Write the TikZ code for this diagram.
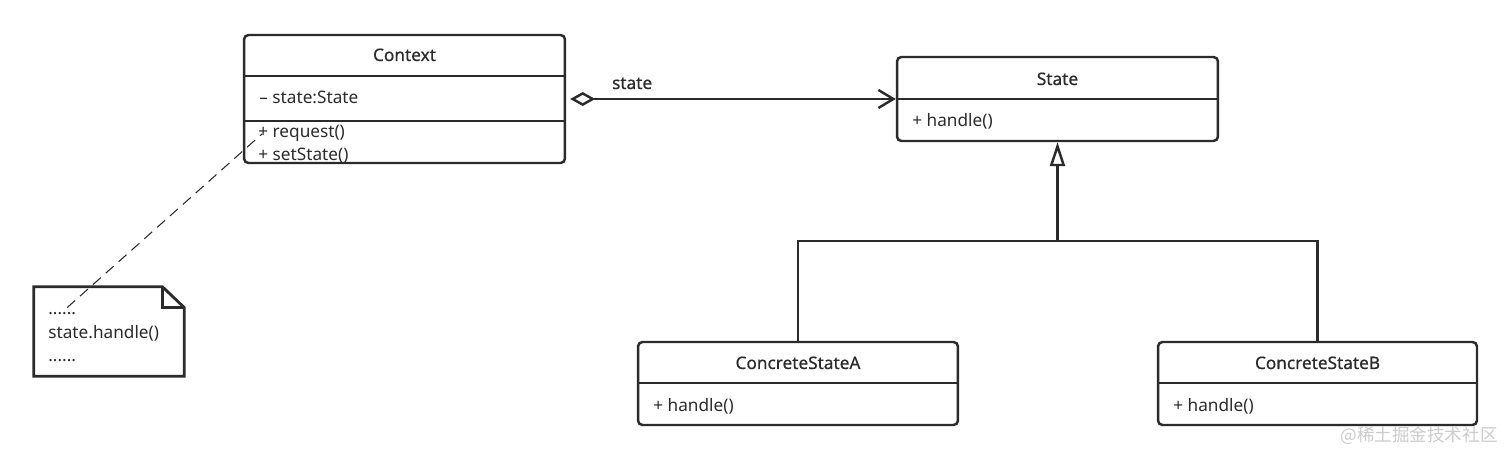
\documentclass[tikz,border=0pt]{standalone}
\usepackage{fontspec}
\setmainfont{Noto Sans}
\newfontfamily\cjkfont{Noto Sans CJK SC}
\usepackage{tikz}
\usetikzlibrary{arrows.meta,positioning}
\definecolor{ink}{HTML}{2B2B2B}
\tikzset{cls/.style={draw=ink,line width=1.4pt,rounded corners=2.5pt,inner sep=0pt},
  ttl/.style={anchor=base,inner sep=0pt,text=ink,font=\fontsize{9.8}{12}\selectfont\addfontfeature{FakeBold=0.6}},
  mbr/.style={anchor=base west,inner sep=0pt,text=ink,font=\fontsize{9.8}{12}\selectfont},
  bar/.style={draw=ink,line width=1.4pt}}

\begin{document}
\begin{tikzpicture}[x=0.02cm,y=-0.02cm]
    \useasboundingbox (0,0) rectangle (1512,459);
    % class boxes
    \node[cls,minimum width=6.42cm,minimum height=2.56cm] (ctx) at (404.5,99) {};
    \node[cls,minimum width=6.42cm,minimum height=1.68cm] (st) at (1057.5,99) {};
    \node[cls,minimum width=6.40cm,minimum height=1.66cm] (csa) at (798,383.5) {};
    \node[cls,minimum width=6.38cm,minimum height=1.66cm] (csb) at (1317.5,383.5) {};

    \draw[bar] (ctx.west |- 0,76) -- (ctx.east |- 0,76);
    \draw[bar] (ctx.west |- 0,121) -- (ctx.east |- 0,121);
    \draw[bar] (st.west |- 0,99) -- (st.east |- 0,99);
    \draw[bar] (csa.west |- 0,383) -- (csa.east |- 0,383);
    \draw[bar] (csb.west |- 0,383) -- (csb.east |- 0,383);

    \node[ttl] (ctxname) at (404.5,61) {Context};
    \node[mbr] (ctxattr) at (259,104) {– state:State};
    \node[mbr] (req) at (258,138) {+ request()};
    \node[mbr] (setst) at (258,161) {+ setState()};
    \node[ttl] (stname) at (1057.5,85) {State};
    \node[mbr] (sth) at (912,127) {+ handle()};
    \node[ttl] (csaname) at (798,369) {ConcreteStateA};
    \node[mbr] (csah) at (653,411) {+ handle()};
    \node[ttl] (csbname) at (1317.5,369) {ConcreteStateB};
    \node[mbr] (csbh) at (1173,411) {+ handle()};

    % note
    \node[minimum width=3cm,minimum height=1.78cm,inner sep=0pt] (note) at (109,331.5) {};
    \draw[bar,line width=1.6pt] (note.north west) -- ([xshift=-0.44cm]note.north east)
        -- ([yshift=-0.42cm]note.north east) -- (note.south east) -- (note.south west) -- cycle;
    \draw[bar] ([xshift=-0.44cm]note.north east) |- ([yshift=-0.42cm]note.north east);
    \node[mbr] (dotsa) at (48,315) {......};
    \node[mbr] (call) at (48,338) {state.handle()};
    \node[mbr] (dotsb) at (48,361) {......};
    \draw[ink,line width=0.6pt,dash pattern=on 6pt off 3.8pt] ([xshift=0.1cm,yshift=0.1cm]dotsa.north) -- ([xshift=0.08cm]req.west);

    % relations
    \draw[bar,shorten <=0.08cm,{Diamond[open,length=0.5cm,width=0.28cm]}-{Straight Barb[length=0.3cm,width=0.36cm]}]
        (ctx.east) -- node[ttl,pos=0.2,yshift=0.2cm] (role) {state} (st.west);
    \coordinate (fork) at (1057.5,241);
    \draw[bar] (csa.north) |- (fork) -| (csb.north);
    \draw[bar,-{Triangle[open,length=0.48cm,width=0.3cm]}] (fork) -- (st.south);

    \node[anchor=base east,inner sep=0pt,text=gray!40,font=\cjkfont\fontsize{10}{12}\selectfont] (mark) at (1498,441) {@稀土掘金技术社区};
\end{tikzpicture}
\end{document}
